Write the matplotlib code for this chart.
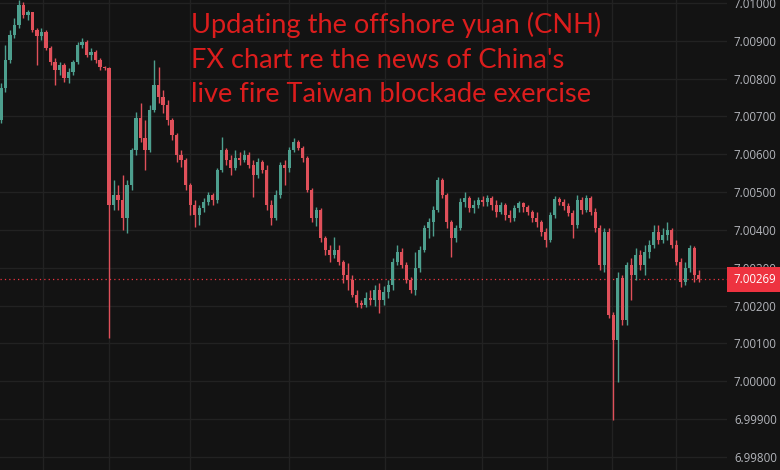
import numpy as np
import matplotlib
matplotlib.use("Agg")
import matplotlib.pyplot as plt
import matplotlib.transforms as mtransforms

# prices are stored as points above 7.0 (1 point = 0.00001)
BASE = 7.0
POINT = 1e-5

opens_pts = [
    690, 775, 849, 915, 942, 995, 968, 976, 929, 913,
    923, 881, 844, 823, 836, 802, 817, 844, 889, 897,
    862, 870, 849, 831, 828, 466, 492, 479, 431, 519,
    611, 696, 643, 611, 717, 783, 751, 730, 690, 651,
    598, 585, 519, 466, 439, 458, 474, 492, 479, 558,
    611, 585, 563, 590, 585, 598, 571, 545, 579, 558,
    466, 431, 492, 571, 563, 611, 632, 616, 590, 505,
    431, 452, 378, 347, 333, 347, 315, 280, 267, 228,
    206, 201, 220, 214, 241, 214, 235, 254, 315, 341,
    307, 267, 241, 299, 347, 405, 421, 452, 532, 492,
    421, 378, 405, 474, 484, 458, 466, 479, 474, 484,
    466, 447, 466, 439, 431, 458, 471, 460, 447, 431,
    421, 394, 373, 439, 481, 474, 463, 444, 413, 479,
    452, 484, 447, 405, 307, 394, 175, 108, 272, 161,
    307, 280, 333, 307, 341, 360, 394, 373, 386, 399,
    360, 315, 262, 299, 352, 280,
]
highs_pts = [
    788, 889, 929, 960, 1008, 1003, 981, 976, 934, 934,
    929, 886, 855, 844, 841, 828, 849, 897, 907, 902,
    881, 876, 855, 833, 831, 532, 519, 545, 532, 616,
    712, 735, 690, 730, 849, 831, 770, 743, 696, 656,
    611, 590, 524, 479, 466, 484, 500, 497, 563, 646,
    616, 598, 611, 606, 611, 606, 585, 590, 585, 571,
    479, 505, 579, 585, 619, 643, 638, 622, 595, 511,
    460, 458, 384, 360, 381, 360, 320, 312, 280, 241,
    214, 235, 241, 254, 259, 251, 267, 325, 360, 352,
    315, 275, 341, 357, 413, 431, 463, 540, 537, 497,
    426, 413, 484, 500, 489, 479, 487, 489, 492, 489,
    479, 474, 471, 452, 466, 476, 474, 466, 452, 447,
    426, 405, 447, 489, 487, 481, 471, 452, 492, 487,
    492, 489, 458, 413, 405, 405, 183, 288, 280, 315,
    325, 352, 347, 360, 373, 413, 413, 405, 421, 405,
    373, 325, 315, 360, 357, 294,
]
lows_pts = [
    683, 764, 841, 907, 934, 960, 955, 923, 836, 902,
    876, 836, 783, 810, 791, 788, 810, 839, 881, 857,
    849, 841, 823, 823, 114, 452, 452, 399, 392, 505,
    598, 632, 558, 606, 712, 735, 709, 677, 638, 579,
    566, 505, 439, 407, 413, 447, 466, 466, 471, 553,
    571, 545, 558, 571, 579, 563, 487, 537, 550, 452,
    413, 426, 484, 519, 553, 606, 611, 579, 500, 421,
    410, 368, 333, 315, 325, 307, 259, 241, 222, 196,
    193, 196, 201, 198, 180, 201, 220, 241, 307, 299,
    259, 233, 228, 288, 341, 378, 384, 447, 484, 405,
    328, 368, 399, 460, 447, 444, 458, 463, 463, 452,
    434, 442, 426, 421, 423, 447, 447, 439, 421, 407,
    384, 354, 368, 431, 466, 452, 437, 378, 405, 442,
    447, 439, 394, 294, 288, 167, -103, -3, 148, 148,
    214, 267, 294, 280, 325, 352, 362, 365, 373, 352,
    307, 249, 254, 288, 262, 262,
]
closes_pts = [
    775, 849, 915, 942, 995, 968, 976, 929, 913, 923,
    881, 844, 823, 836, 802, 817, 844, 889, 897, 862,
    870, 849, 831, 828, 466, 492, 479, 431, 519, 611,
    696, 643, 611, 717, 783, 751, 730, 690, 651, 598,
    585, 519, 466, 439, 458, 474, 492, 479, 558, 611,
    585, 563, 590, 585, 598, 571, 545, 579, 558, 466,
    431, 492, 571, 563, 611, 632, 616, 590, 505, 431,
    452, 378, 347, 333, 347, 315, 280, 267, 228, 206,
    201, 220, 214, 241, 214, 235, 254, 315, 341, 307,
    267, 241, 299, 347, 405, 421, 452, 532, 492, 421,
    378, 405, 474, 484, 458, 466, 479, 474, 484, 466,
    447, 466, 439, 431, 458, 471, 460, 447, 431, 421,
    394, 373, 439, 481, 474, 463, 444, 413, 479, 452,
    484, 447, 405, 307, 394, 175, 108, 272, 161, 307,
    280, 333, 307, 341, 360, 394, 373, 386, 399, 360,
    315, 262, 299, 352, 280, 269,
]

price_ticks = [6.998, 6.999, 7.000, 7.001, 7.002, 7.003, 7.004,
               7.005, 7.006, 7.007, 7.008, 7.009, 7.010]

title_lines = [
    "Updating the offshore yuan (CNH)",
    "FX chart re the news of China's",
    "live fire Taiwan blockade exercise",
]

# ---- style ----
BG = "#131313"
GRID = "#222222"
UP = "#4d9f8e"
DOWN = "#e0505a"
LAST = "#ee3340"
TEXT_RED = "#dc1d1d"
SANS = ["Lato", "Open Sans", "DejaVu Sans"]

opens = BASE + np.array(opens_pts) * POINT
highs = BASE + np.array(highs_pts) * POINT
lows = BASE + np.array(lows_pts) * POINT
closes = BASE + np.array(closes_pts) * POINT
idx = np.arange(len(closes))
colors = np.where(closes >= opens, UP, DOWN)

fig = plt.figure(figsize=(7.8, 4.7), dpi=100, facecolor=BG)
ax = fig.add_axes([0, 0, 727 / 780, 1])
ax.set_facecolor(BG)

# time grid (irregular, like the source)
for gx in [9.3, 24, 42, 64, 85.3, 106.9, 121.3, 135.8, 150]:
    ax.axvline(gx, color=GRID, lw=1, zorder=0)
ax.set_yticks(price_ticks)
ax.yaxis.grid(True, color=GRID, lw=1, zorder=0)
ax.set_axisbelow(True)

# candles
ax.vlines(idx, lows, highs, colors=colors, lw=1, zorder=2)
body_low = np.minimum(opens, closes)
body_h = np.maximum(np.abs(closes - opens), 1.5 * POINT)
ax.bar(idx, body_h, bottom=body_low, width=0.68, color=colors, lw=0, zorder=2)

last = closes[-1]
ax.axhline(last, color=LAST, lw=0.9, ls=(0, (1, 2.5)), zorder=1)

ax.set_xlim(-0.22, 161.3)
ax.set_ylim(BASE - 235 * POINT, BASE + 1008 * POINT)
ax.set_xticks([])
ax.yaxis.tick_right()
ax.yaxis.set_major_formatter(plt.FuncFormatter(lambda v, p: f"{v:.5f}"))
ax.tick_params(axis="y", length=0, pad=5, labelsize=8.3, labelcolor="#b4b6bc")
for lab in ax.get_yticklabels():
    lab.set_family(["Open Sans", "DejaVu Sans"])
for s in ax.spines.values():
    s.set_visible(False)

trans = mtransforms.blended_transform_factory(fig.transFigure, ax.transData)
ax.text(733 / 780, last, f"{last:.5f}", transform=trans, ha="left", va="center",
        color="white", fontsize=8.3, family=["Open Sans", "DejaVu Sans"],
        clip_on=False, zorder=5,
        bbox=dict(boxstyle="square,pad=0.5", fc=LAST, ec="none"))

for k, line in enumerate(title_lines):
    fig.text(191 / 780, 1 - (33 + 34.5 * k) / 470, line, color=TEXT_RED,
             fontsize=19.6, family=SANS, va="baseline", ha="left")

fig.savefig("out.png", dpi=100, facecolor=BG)
